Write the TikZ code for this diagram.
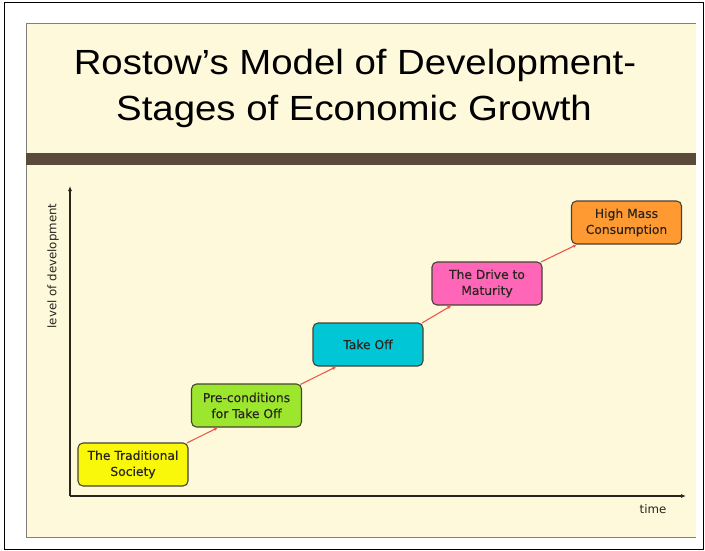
\documentclass[tikz,border=0pt]{standalone}
\usepackage{fontspec}
\setmainfont{Liberation Sans}
\newfontfamily\boxfont[FakeBold=0.35]{DejaVu Sans}
\newfontfamily\labfont{DejaVu Sans}
\usetikzlibrary{arrows.meta}
\definecolor{cream}{RGB}{255,249,220}
\definecolor{bandbrown}{RGB}{90,74,58}
\definecolor{panelgray}{RGB}{128,128,128}
\definecolor{boxline}{RGB}{70,66,52}
\definecolor{txtdark}{RGB}{40,36,30}
\definecolor{axiscol}{RGB}{40,36,30}
\definecolor{conncol}{RGB}{232,88,74}
\definecolor{cyellow}{RGB}{250,248,10}
\definecolor{cgreen}{RGB}{156,230,46}
\definecolor{ccyan}{RGB}{0,198,214}
\definecolor{cpink}{RGB}{255,102,184}
\definecolor{corange}{RGB}{255,154,51}
\begin{document}
\begin{tikzpicture}[x=1pt,y=-1pt,
  stagebox/.style={draw=boxline, line width=1.1pt, rounded corners=5pt,
    minimum width=110pt, minimum height=43pt, align=center, inner sep=0pt,
    text=txtdark, font={\boxfont\fontsize{12.3}{16}\selectfont}},
  conn/.style={draw=conncol, line width=1.1pt, -{Latex[length=4pt,width=3.5pt]}},
  axisline/.style={draw=axiscol, line width=1.6pt, -{Latex[length=5pt,width=4pt]}},
  axislabel/.style={text=txtdark, font={\labfont\fontsize{11.8}{14}\selectfont}},
  titletext/.style={anchor=base, text=black, font={\fontsize{38}{40}\selectfont}}]
\useasboundingbox (0,0) rectangle (705,551);
\fill[white] (0,0) rectangle (705,551);
\draw[black, line width=1pt] (4.5,3) rectangle (703,549);
\fill[cream] (26,24) rectangle (696,537);
\draw[panelgray, line width=1pt] (696,24) -- (26,24) -- (26,537) -- (696,537);
\fill[bandbrown] (26,153) rectangle (696,165);

\node[titletext] (title1) at (355,75) {\scalebox{1.01}[0.92]{Rostow’s Model of Development-}};
\node[titletext] (title2) at (354,121) {\scalebox{1.01}[0.92]{Stages of Economic Growth}};

\coordinate (origin) at (70,496);
\coordinate (ytop) at (70,186);
\coordinate (xend) at (686,496);
\draw[axisline] (origin) -- (ytop);
\draw[axisline] (origin) -- (xend);

\node[axislabel, rotate=90] (ylab) at (53,266) {level of development};
\node[axislabel] (xlab) at (653,509) {time};

\node[stagebox, fill=cyellow] (s1) at (133,464.5) {The Traditional\\Society};
\node[stagebox, fill=cgreen] (s2) at (246.5,405.5) {Pre-conditions\\for Take Off};
\node[stagebox, fill=ccyan] (s3) at (368,344.5) {Take Off};
\node[stagebox, fill=cpink] (s4) at (487,283.5) {The Drive to\\Maturity};
\node[stagebox, fill=corange] (s5) at (626.5,222.5) {High Mass\\Consumption};

\draw[conn] ([xshift=-1.5pt,yshift=-0.5pt]s1.north east) -- ([xshift=27pt]s2.south west);
\draw[conn] ([xshift=-1.5pt,yshift=-1pt]s2.north east) -- ([xshift=24pt]s3.south west);
\draw[conn] ([xshift=-1.5pt,yshift=-0.5pt]s3.north east) -- ([xshift=20pt]s4.south west);
\draw[conn] ([xshift=-1.5pt,yshift=-0.5pt]s4.north east) -- ([xshift=6pt]s5.south west);
\end{tikzpicture}
\end{document}
